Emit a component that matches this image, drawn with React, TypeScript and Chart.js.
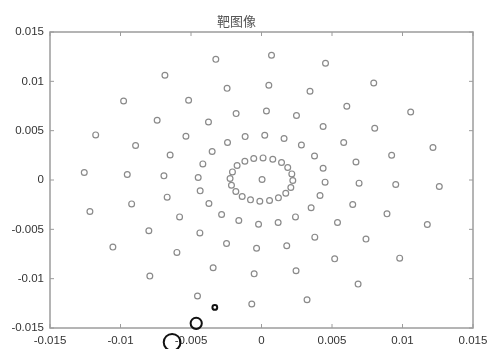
import { useEffect, useRef } from 'react';
import { Chart, registerables } from 'chart.js';

Chart.register(...registerables);

const chartTitle = '靶图像';

// target image points: [x, y]
const outerRing: [number, number][] = [
  [-0.00685, 0.01061], [-0.00978, 0.00801], [-0.01176, 0.00457], [-0.01257, 0.00076],
  [-0.01217, -0.00319], [-0.01054, -0.0068], [-0.00792, -0.00974], [-0.00454, -0.01176],
  [-0.00069, -0.01257], [0.00323, -0.01214], [0.00685, -0.01055], [0.0098, -0.00792],
  [0.01176, -0.00451], [0.01261, -0.00066], [0.01216, 0.00329], [0.01058, 0.00689],
  [0.00796, 0.00983], [0.00454, 0.01183], [0.00071, 0.01264], [-0.00324, 0.01223],
];
const secondRing: [number, number][] = [
  [-0.00517, 0.00808], [-0.0074, 0.00605], [-0.00893, 0.00349], [-0.00952, 0.00056],
  [-0.00921, -0.00242], [-0.00799, -0.00515], [-0.006, -0.00734], [-0.00343, -0.0089],
  [-0.00052, -0.00951], [0.00245, -0.0092], [0.00519, -0.00799], [0.00741, -0.00599],
  [0.0089, -0.00343], [0.00952, -0.00046], [0.00923, 0.00251], [0.00803, 0.00524],
  [0.00605, 0.00747], [0.00344, 0.00899], [0.00052, 0.0096], [-0.00244, 0.00929],
];
const thirdRing: [number, number][] = [
  [-0.00376, 0.00588], [-0.00536, 0.00443], [-0.00648, 0.00254], [-0.00692, 0.00042],
  [-0.00669, -0.00174], [-0.00581, -0.00374], [-0.00437, -0.00536], [-0.00248, -0.00643],
  [-0.00035, -0.00691], [0.00179, -0.00667], [0.00378, -0.00579], [0.00539, -0.0043],
  [0.00647, -0.00248], [0.00692, -0.00032], [0.0067, 0.00183], [0.00583, 0.0038],
  [0.00437, 0.00542], [0.00248, 0.00653], [0.00035, 0.007], [-0.0018, 0.00673],
];
const fourthRing: [number, number][] = [
  [-0.00116, 0.0044], [0.00023, 0.00454], [0.0016, 0.0042], [0.00283, 0.00355],
  [0.00376, 0.00244], [0.00437, 0.00119], [0.00451, -0.00022], [0.00415, -0.00157],
  [0.00352, -0.00282], [0.00241, -0.00374], [0.00118, -0.0043], [-0.00021, -0.00448],
  [-0.00161, -0.0041], [-0.00283, -0.00349], [-0.00373, -0.00238], [-0.00435, -0.0011],
  [-0.00449, 0.00025], [-0.00416, 0.00163], [-0.0035, 0.00289], [-0.00241, 0.0038],
];
const innerRing: [number, number][] = [
  [-0.00055, 0.00218], [0.00011, 0.00224], [0.0008, 0.00211], [0.00142, 0.00177],
  [0.00186, 0.00127], [0.00215, 0.00062], [0.00222, -0.00005], [0.00208, -0.00076],
  [0.00172, -0.00134], [0.0012, -0.00181], [0.00057, -0.00208], [-0.00012, -0.00215],
  [-0.00078, -0.00201], [-0.00137, -0.00167], [-0.00182, -0.00116], [-0.00213, -0.00053],
  [-0.00223, 0.00015], [-0.00206, 0.00082], [-0.00173, 0.00147], [-0.00118, 0.0019],
];
const centerPoint: [number, number][] = [[0.00004, 0.00005]];

// scattered debris points (black)
const debrisPoints: [number, number][] = [
  [-0.00331, -0.01291], [-0.00463, -0.01453], [-0.00634, -0.01645],
];

const axisTicks = [-0.015, -0.01, -0.005, 0, 0.005, 0.01, 0.015];
const tickLabels = ['-0.015', '-0.01', '-0.005', '0', '0.005', '0.01', '0.015'];

const toXY = (arr: [number, number][]) => arr.map(([x, y]) => ({ x, y }));

const framePlugin = {
  id: 'frameTicks',
  beforeDatasetsDraw(chart: any) {
    const { ctx, chartArea, scales } = chart;
    const { left, right, top, bottom } = chartArea;
    const xs = scales.x;
    const ys = scales.y;
    ctx.save();
    ctx.strokeStyle = '#9c9c9c';
    ctx.lineWidth = 1.5;
    ctx.strokeRect(left, top, right - left, bottom - top);
    ctx.lineWidth = 1;
    ctx.beginPath();
    xs.ticks.forEach((t: any) => {
      const px = xs.getPixelForValue(t.value);
      ctx.moveTo(px, bottom);
      ctx.lineTo(px, bottom - 4);
      ctx.moveTo(px, top);
      ctx.lineTo(px, top + 4);
    });
    ys.ticks.forEach((t: any) => {
      const py = ys.getPixelForValue(t.value);
      ctx.moveTo(left, py);
      ctx.lineTo(left + 4, py);
      ctx.moveTo(right, py);
      ctx.lineTo(right - 4, py);
    });
    ctx.stroke();
    ctx.restore();
  },
};

const tickFont = { family: '"Liberation Sans", Arial, sans-serif', size: 11.5 };

const zeroPad = (s: any) => {
  s.paddingLeft = 0;
  s.paddingRight = 0;
  s.paddingTop = 0;
  s.paddingBottom = 0;
};

export default function App() {
  const ref = useRef<HTMLCanvasElement | null>(null);
  useEffect(() => {
    if (!ref.current) return;
    const grayPoints = [
      ...toXY(outerRing), ...toXY(secondRing), ...toXY(thirdRing),
      ...toXY(fourthRing), ...toXY(innerRing), ...toXY(centerPoint),
    ];
    const chart = new Chart(ref.current, {
      type: 'scatter',
      data: {
        datasets: [
          {
            label: 'target',
            data: grayPoints,
            pointStyle: 'circle',
            pointRadius: 2.9,
            pointBorderWidth: 1.2,
            pointBorderColor: '#8a8a8a',
            pointBackgroundColor: 'rgba(0,0,0,0)',
            pointHoverRadius: 2.9,
          },
          {
            label: 'debris',
            data: toXY(debrisPoints),
            pointStyle: 'circle',
            pointRadius: [2.4, 5.6, 8.4],
            pointHoverRadius: 20,
            pointBorderWidth: 2,
            pointBorderColor: '#111',
            pointBackgroundColor: 'rgba(0,0,0,0)',
            clip: false as any,
          },
        ],
      },
      options: {
        responsive: false,
        animation: false,
        events: [],
        layout: { autoPadding: false, padding: { left: 0, right: 18, top: 0, bottom: 0 } },
        plugins: {
          legend: { display: false },
          tooltip: { enabled: false },
          title: {
            display: true,
            text: chartTitle,
            color: '#555',
            font: { family: '"Noto Sans CJK SC", sans-serif', size: 13, weight: 'normal' as any },
            padding: { top: 13.2, bottom: 3.2 },
          },
        },
        scales: {
          x: {
            type: 'linear',
            min: -0.015,
            max: 0.015,
            afterBuildTicks: (s: any) => { s.ticks = axisTicks.map((v) => ({ value: v })); },
            afterFit: (s: any) => { s.height = 21; zeroPad(s); },
            grid: { display: false, drawTicks: false },
            border: { display: false },
            ticks: {
              padding: 6,
              color: '#333',
              font: tickFont,
              maxRotation: 0,
              autoSkip: false,
              callback: (_v: any, i: number) => tickLabels[i],
            },
          },
          y: {
            type: 'linear',
            min: -0.015,
            max: 0.015,
            afterBuildTicks: (s: any) => { s.ticks = axisTicks.map((v) => ({ value: v })); },
            afterFit: (s: any) => { s.width = 50; zeroPad(s); },
            grid: { display: false, drawTicks: false },
            border: { display: false },
            ticks: {
              padding: 6,
              color: '#333',
              font: tickFont,
              autoSkip: false,
              callback: (_v: any, i: number) => tickLabels[i],
            },
          },
        },
      },
      plugins: [framePlugin],
    });
    return () => chart.destroy();
  }, []);
  return (
    <div style={{ position: 'absolute', left: 0, top: 0, width: 491, height: 349, background: '#fff' }}>
      <canvas ref={ref} width={491} height={349} style={{ display: 'block' }} />
    </div>
  );
}
